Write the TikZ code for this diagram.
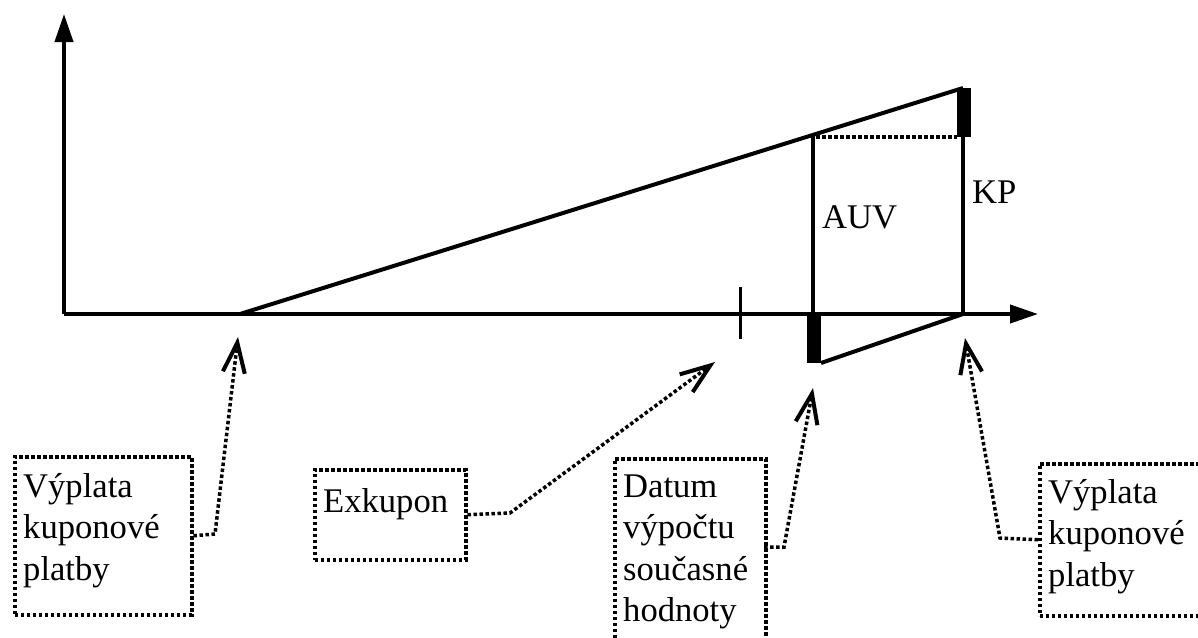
\documentclass[tikz,border=0pt]{standalone}
\usepackage{fontspec}
\setmainfont{Liberation Serif}
\usetikzlibrary{arrows.meta}
\begin{document}
\begin{tikzpicture}[x=1pt,y=-1pt,
  axis/.style={line width=4pt,-{Triangle[length=28pt,width=18pt]}},
  solidline/.style={line width=4pt},
  dotline/.style={line width=3.5pt,dash pattern=on 3.5pt off 2.5pt},
  box/.style={draw,dotline,inner sep=0pt,anchor=north west},
  pointer/.style={dotline,-{Straight Barb[length=30pt,width=22pt,line width=4pt]}},
  txt/.style={font=\fontsize{34.6}{41.5}\selectfont,inner sep=0pt,anchor=base west},
  bar/.style={fill=black}]
\useasboundingbox (0,0) rectangle (1198,637);
\clip (0,0) rectangle (1198,637);
% axes
\coordinate (O) at (64,314);
\coordinate (Ytip) at (64,14);
\coordinate (Xtip) at (1038,314);
\draw[axis] (O) -- (Ytip);
\draw[axis] (O) -- (Xtip);
% key points
\coordinate (A) at (240,314);
\coordinate (B) at (963,88);
\coordinate (C) at (813,135);
\coordinate (Cb) at (813,314);
\coordinate (D) at (963,137);
\coordinate (Db) at (963,314);
\coordinate (E) at (821,363);
\draw[solidline] (A) -- (B);
\draw[solidline] (Cb) -- (C);
\draw[solidline] (D) -- (Db);
\draw[dotline] (816,137) -- (957,137);
\draw[solidline] (E) -- (Db);
\fill[bar] (957,88) rectangle (971,137);
\fill[bar] (807,312) rectangle (821,363);
\coordinate (T1) at (740,287);
\coordinate (T2) at (740,339);
\draw[line width=3pt] (T1) -- (T2);
\node[txt] (auv) at (822,228) {AUV};
\node[txt] (kp) at (972,203) {KP};
% boxes
\node[box,minimum width=177pt,minimum height=158pt] (b1) at (13,455) {};
\node[box,minimum width=151pt,minimum height=90pt] (b2) at (313,468) {};
\node[box,minimum width=151pt,minimum height=260pt] (b3) at (613,457) {};
\node[box,minimum width=220pt,minimum height=152pt] (b4) at (1038,462) {};
\node[txt] (t1) at (23,497) {\parbox[t]{170pt}{Výplata\\kuponové\\platby}};
\node[txt] (t2) at (323,512) {Exkupon};
\node[txt] (t3) at (623,497) {\parbox[t]{150pt}{Datum\\výpočtu\\současné\\hodnoty}};
\node[txt] (t4) at (1048,503) {\parbox[t]{150pt}{Výplata\\kuponové\\platby}};
% pointers
\coordinate (p1) at (238,337);
\coordinate (p2) at (715,362);
\coordinate (p3) at (813,388);
\coordinate (p4) at (965,338);
\coordinate (c3) at (764,547);
\draw[pointer] (b1.east) -- (215,534) -- (p1);
\draw[pointer] (b2.east) -- (510,513) -- (p2);
\draw[pointer] (c3) -- (784,547) -- (p3);
\draw[pointer] (b4.west) -- (1000,538) -- (p4);
\end{tikzpicture}
\end{document}
